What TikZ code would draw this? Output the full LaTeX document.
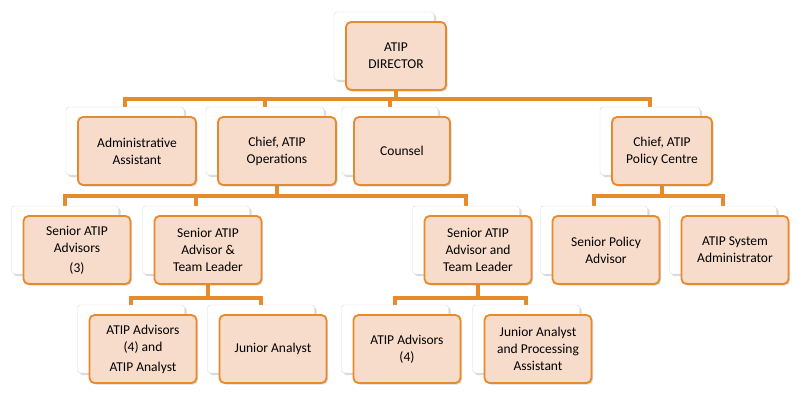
\documentclass[tikz,border=0pt]{standalone}
\usepackage{fontspec}
\setmainfont{Carlito}
\usetikzlibrary{shadows, positioning, calc, backgrounds}
\definecolor{boxfill}{HTML}{F8DCCB}
\definecolor{boxline}{HTML}{E8892A}

\tikzset{
    card/.style={rectangle, rounded corners=3pt, fill=white, draw=black!15,
        minimum width=#1, minimum height=68pt, inner sep=0pt,
        drop shadow={shadow xshift=2pt, shadow yshift=-2pt, opacity=0.3}},
    unit/.style={rectangle, rounded corners=5pt, fill=boxfill, draw=boxline, line width=1.8pt,
        minimum width=#1, minimum height=68pt, align=center, inner sep=2pt,
        font=\fontsize{13.5}{17}\selectfont,
        drop shadow={shadow xshift=1.5pt, shadow yshift=-1.5pt, opacity=0.3}},
    link/.style={draw=boxline, line width=3.4pt}
}

% box with white card behind it
\newcommand{\orgunit}[5]{
    \node[card=#4] (#1c) at ($(#2,#3)+(-12,-10)$) {};
    \node[unit=#4] (#1) at (#2,#3) {#5};
}

\begin{document}
\begin{tikzpicture}[x=1pt, y=-1pt]
            \useasboundingbox (0,0) rectangle (806,402);

            \orgunit{dir}{396}{56}{100}{ATIP\\DIRECTOR}

            \orgunit{adm}{137}{151}{118}{Administrative\\Assistant}
            \orgunit{ops}{277}{151}{118}{Chief, ATIP\\Operations}
            \orgunit{cns}{402}{151}{96}{Counsel}
            \orgunit{pol}{662}{151}{100}{Chief, ATIP\\Policy Centre}

            \orgunit{sra}{77}{250}{107}{Senior ATIP\\Advisors\\[3pt](3)}
            \orgunit{tla}{208}{250}{107}{Senior ATIP\\Advisor \&\\Team Leader}
            \orgunit{tlb}{478}{250}{107}{Senior ATIP\\Advisor and\\Team Leader}
            \orgunit{spa}{606}{250}{107}{Senior Policy\\Advisor}
            \orgunit{sys}{735}{250}{107}{ATIP System\\Administrator}

            \orgunit{ava}{143}{349}{107}{ATIP Advisors\\(4) and\\[3pt]ATIP Analyst}
            \orgunit{jna}{273}{349}{107}{Junior Analyst}
            \orgunit{avb}{407}{349}{107}{ATIP Advisors\\(4)}
            \orgunit{jnb}{538}{349}{107}{Junior Analyst\\and Processing\\Assistant}

            %%%%%%%%%%%%%%%%%%%%%%%%%%%%%%%%%%%%%%%%%%%%%%%%%%%%%%%%%%%%%
            \begin{scope}[on background layer]
                \foreach \x in {admc, opsc, cnsc, polc}
                    \draw[link] (dir.south) |- ($(dir.south)+(0,8)$) -| (\x.north);
                \foreach \x in {srac, tlac, tlbc}
                    \draw[link] (ops.south) |- ($(ops.south)+(0,10)$) -| (\x.north);
                \foreach \x in {spac, sysc}
                    \draw[link] (pol.south) |- ($(pol.south)+(0,10)$) -| (\x.north);
                \foreach \x in {avac, jnac}
                    \draw[link] (tla.south) |- ($(tla.south)+(0,13)$) -| (\x.north);
                \foreach \x in {avbc, jnbc}
                    \draw[link] (tlb.south) |- ($(tlb.south)+(0,13)$) -| (\x.north);
            \end{scope}

        \end{tikzpicture}
\end{document}
